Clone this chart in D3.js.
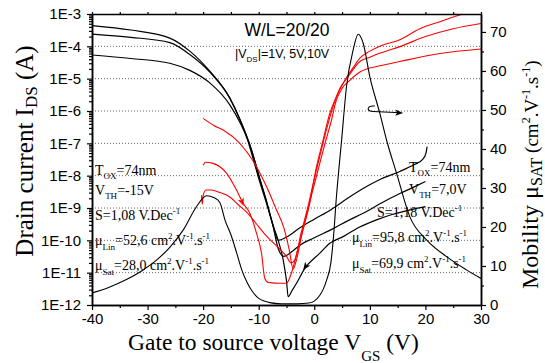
<!DOCTYPE html>
<html>
<head>
<meta charset="utf-8">
<script src="https://cdn.jsdelivr.net/npm/d3@7"></script>
<style>
  body { margin: 0; background: #fff; }
  svg { display: block; }
</style>
</head>
<body>
<div id="chart"></div>
<script>
// ---- data: [VGS (V), IDS (A)] / [VGS, mobility] ----
var vgsTicks = [-40, -30, -20, -10, 0, 10, 20, 30];
var vgsMinor = [-35, -25, -15, -5, 5, 15, 25];
var idsTicks = [1e-3, 1e-4, 1e-5, 1e-6, 1e-7, 1e-8, 1e-9, 1e-10, 1e-11, 1e-12];
var gridLines = [1e-4, 1e-5, 1e-6, 1e-7, 1e-8, 1e-9, 1e-10, 1e-11];
var mobTicks = [0, 10, 20, 30, 40, 50, 60, 70];
var mobMinor = [5, 15, 25, 35, 45, 55, 65];

// black transfer curves (|VDS| = 10V, 5V, 1V)
var blackVds10 = [[-40,4.4e-4],[-33,3.2e-4],[-26,1.8e-4],[-22.4,7.1e-5],[-18.8,1.7e-5],[-15.2,2.5e-6],
  [-13.4,5.6e-7],[-11.3,6.3e-8],[-9.8,7.9e-9],[-8.6,1.6e-9],[-7.5,3.2e-10],[-6.5,1.0e-10],[-5,1.26e-10],
  [-2.5,2.5e-10],[0,4.5e-10],[3,8.9e-10],[6,2.0e-9],[9.4,4.6e-9],[12,7.9e-9],[15.4,1.35e-8],[18,2.2e-8],
  [19.5,3.2e-8],[20.1,5.0e-8],[20.3,7.9e-8]];
var blackVds5 = [[-40,2.4e-4],[-33,1.9e-4],[-26,1.3e-4],[-22.4,5.6e-5],[-18.8,1.6e-5],[-15.2,2.5e-6],
  [-13.4,5.6e-7],[-11.3,6.3e-8],[-9.8,7.9e-9],[-8.6,1.6e-9],[-7.5,3.2e-10],[-6.5,5.6e-11],[-5.5,3.2e-11],
  [-4,4.5e-11],[-2.6,7.1e-11],[0,1.2e-10],[3.4,2.3e-10],[6,4.0e-10],[9.4,7.8e-10],[12,1.4e-9],
  [15.4,2.8e-9],[18,4.5e-9],[20,6.6e-9]];
var blackVds1 = [[-40,5.4e-5],[-33,4.2e-5],[-26,3.0e-5],[-22.4,1.8e-5],[-18.8,7.4e-6],[-15.2,1.55e-6],
  [-13.4,4.5e-7],[-12,1.26e-7],[-11.3,5.0e-8],[-9.8,6.3e-9],[-8.6,1.4e-9],[-7.5,3.2e-10],[-6.5,1.0e-10],
  [-5.6,2.5e-11],[-5,5.6e-12],[-4.7,1.8e-12],[-4,2.8e-12],[-3.2,4.7e-12],[-1.7,1.35e-11],[1,4.0e-11],
  [2.8,8.1e-11],[5.2,1.3e-10],[8,2.5e-10],[11.2,4.3e-10],[14,6.3e-10],[17.2,8.7e-10],[20,1.1e-9]];

// red transfer curves
var redVds10 = [[-20,5.9e-7],[-18,3.5e-7],[-16.4,2.6e-7],[-13.4,1.0e-7],[-10.4,1.9e-8],[-8.6,4.6e-9],
  [-6.8,8.7e-10],[-5.5,2.5e-10],[-4.5,5.0e-11],[-3.8,1.3e-11],[-3.2,2.5e-11],[-2.2,1.6e-10],[-1,1.0e-9],
  [0.4,1.9e-8],[1.5,1.1e-7],[2.8,8.5e-7],[4,2.8e-6],[5.5,8.9e-6],[7,2.2e-5],[8.2,4.3e-5],[10,7.1e-5],
  [12,1.05e-4],[15.4,1.6e-4],[19,3.5e-4],[22.6,5.8e-4],[26.8,1.0e-3],[30,1.35e-3]];
var redVds5 = [[-20.3,2.5e-9],[-20.15,1.3e-9],[-20,2.4e-9],[-19.5,3.6e-9],[-18.5,3.6e-9],[-17,3.0e-9],
  [-15.2,2.2e-9],[-13.7,1.26e-9],[-12,7.0e-10],[-10.4,3.2e-10],[-8.5,1.3e-10],[-6.5,6.0e-11],[-5,3.2e-11],
  [-4.2,2.0e-11],[-3.5,2.5e-11],[-2.4,1.6e-10],[-1.2,1.0e-9],[0,8.0e-9],[1.2,5.6e-8],[2.4,3.6e-7],
  [3.5,1.6e-6],[4.6,5.0e-6],[6,1.1e-5],[8.2,3.4e-5],[10,4.6e-5],[12,6.3e-5],[15.4,9.8e-5],[20,2.0e-4],
  [25,3.5e-4],[30,5.1e-4]];
var redVds1 = [[-20,2.1e-8],[-19.6,2.6e-8],[-18.2,2.4e-8],[-15.8,1.2e-8],[-14,3.6e-9],[-12.8,1.4e-9],
  [-11.6,6.9e-10],[-10.4,1.66e-10],[-9.5,4.0e-11],[-8.9,6.6e-12],[-8.3,5.0e-12],[-6,4.7e-12],[-5,4.7e-12],
  [-4.3,7.9e-12],[-3,5.0e-11],[-1.8,3.2e-10],[-0.5,2.5e-9],[0.8,1.8e-8],[2,1.1e-7],[3,4.5e-7],[3.9,2.0e-6],
  [5,5.0e-6],[6.4,8.9e-6],[8.2,1.6e-5],[11.8,2.5e-5],[15.4,3.4e-5],[22.6,6.0e-5],[30,8.3e-5]];

// saturation mobility (right axis)
var mobility = [[-40,3.1],[-37,4.5],[-34,6.4],[-31,8.8],[-28.4,11.5],[-26,14.8],[-23.6,19.2],[-21.2,25.2],
  [-19.4,28],[-18,27.5],[-17,26.3],[-16,21.5],[-15,18],[-14,13.5],[-13,8.8],[-12,5.5],[-11,3.2],[-10,1.7],
  [-9,1],[-8,0.6],[-6,0.3],[-3,0.3],[-1,0.5],[0,1],[1,2.5],[1.6,4],[2.2,6.3],[3,11],[3.4,16.5],[4,28],
  [4.9,42],[5.8,56],[7,65.4],[7.9,69.4],[8.8,67.1],[10,58.5],[11.8,49.1],[13,42.3],[14.8,33.8],
  [17.2,22.6],[20.2,16.7],[23.8,12.4],[27.4,9],[30,6.8]];

// ---- layout ----
var W = 545, H = 363;
var m = { l: 92, r: 481, t: 14, b: 305 };
var serif = "'Liberation Serif','Times New Roman',serif";
var sans = "'Liberation Sans',Arial,sans-serif";

var svg = d3.select("#chart").append("svg")
  .attr("width", W)
  .attr("height", H);

var x = d3.scaleLinear().domain([-40, 30]).range([m.l, m.r]);
var y = d3.scaleLog().domain([1e-12, 1e-3]).range([m.b, m.t]);
var yR = d3.scaleLinear().domain([0, 74.6]).range([m.b, m.t]);

svg.append("clipPath").attr("id", "plotclip")
  .append("rect")
  .attr("x", m.l).attr("y", m.t)
  .attr("width", m.r - m.l).attr("height", m.b - m.t);

// dotted grid
svg.append("g").selectAll("line")
  .data(gridLines)
  .enter().append("line")
  .attr("x1", m.l).attr("x2", m.r)
  .attr("y1", function (d) { return y(d); })
  .attr("y2", function (d) { return y(d); })
  .attr("stroke", "#666")
  .attr("stroke-width", 1)
  .attr("stroke-dasharray", "1,2");

// curves
var plot = svg.append("g").attr("clip-path", "url(#plotclip)");

var ivLine = d3.line()
  .x(function (d) { return x(d[0]); })
  .y(function (d) { return y(d[1]); })
  .curve(d3.curveMonotoneX);

var muLine = d3.line()
  .x(function (d) { return x(d[0]); })
  .y(function (d) { return yR(d[1]); })
  .curve(d3.curveMonotoneX);

[blackVds10, blackVds5, blackVds1].forEach(function (s) {
  plot.append("path").datum(s)
    .attr("d", ivLine).attr("fill", "none")
    .attr("stroke", "#000").attr("stroke-width", 1.2);
});
[redVds10, redVds5, redVds1].forEach(function (s) {
  plot.append("path").datum(s)
    .attr("d", ivLine).attr("fill", "none")
    .attr("stroke", "#ff0000").attr("stroke-width", 1.1);
});
plot.append("path").datum(mobility)
  .attr("d", muLine).attr("fill", "none")
  .attr("stroke", "#000").attr("stroke-width", 1.1);

// arrows
function arrowHead(px, py, ang, col) {
  svg.append("path")
    .attr("d", "M0,0 L-8,-3.2 L-6,0 L-8,3.2 Z")
    .attr("transform", "translate(" + px + "," + py + ") rotate(" + ang + ")")
    .attr("fill", col);
}
arrowHead(x(-2.0), y(1.2e-11), 125, "#000");
arrowHead(x(-12.7), y(1.15e-9), 68, "#ff0000");

svg.append("path")
  .attr("d", "M" + x(10.9) + "," + yR(51) +
    " C" + x(9.4) + "," + yR(51.2) + " " + x(9.3) + "," + yR(49.6) + " " + x(10.6) + "," + yR(49.6) +
    " L" + x(15.6) + "," + yR(49.3))
  .attr("fill", "none").attr("stroke", "#000").attr("stroke-width", 1.1);
arrowHead(x(16.0), yR(49.25), 2, "#000");

// axes
function styleAxis(g, fs) {
  g.attr("font-family", sans).attr("font-size", fs);
  g.select(".domain").attr("stroke-width", 1.5);
  g.selectAll(".tick line").attr("stroke-width", 1.2);
  g.selectAll(".tick text").attr("fill", "#000");
}
var fmtInt = function (d) { return String(d); };
var fmtExp = function (d) { return "1E" + Math.round(Math.log10(d)); };

var minorLog = [];
for (var e = -12; e < -3; e++) {
  for (var k = 2; k <= 9; k++) minorLog.push(k * Math.pow(10, e));
}

svg.append("g").attr("transform", "translate(0," + m.b + ")")
  .call(d3.axisBottom(x).tickValues(vgsMinor).tickSize(3).tickFormat("").tickSizeOuter(0))
  .call(styleAxis, 15);
svg.append("g").attr("transform", "translate(0," + m.b + ")")
  .call(d3.axisBottom(x).tickValues(vgsTicks).tickFormat(fmtInt).tickSize(5).tickPadding(3).tickSizeOuter(0))
  .call(styleAxis, 15);

svg.append("g").attr("transform", "translate(0," + m.t + ")")
  .call(d3.axisTop(x).tickValues(vgsTicks.concat(vgsMinor)).tickSize(2).tickFormat("").tickSizeOuter(0))
  .call(styleAxis, 15);

svg.append("g").attr("transform", "translate(" + m.l + ",0)")
  .call(d3.axisLeft(y).tickValues(minorLog).tickSize(3).tickFormat("").tickSizeOuter(0))
  .call(styleAxis, 15);
svg.append("g").attr("transform", "translate(" + m.l + ",0)")
  .call(d3.axisLeft(y).tickValues(idsTicks).tickFormat(fmtExp).tickSize(5).tickPadding(6).tickSizeOuter(0))
  .call(styleAxis, 15);

svg.append("g").attr("transform", "translate(" + m.r + ",0)")
  .call(d3.axisRight(yR).tickValues(mobMinor).tickSize(3).tickFormat("").tickSizeOuter(0))
  .call(styleAxis, 15);
svg.append("g").attr("transform", "translate(" + m.r + ",0)")
  .call(d3.axisRight(yR).tickValues(mobTicks).tickFormat(fmtInt).tickSize(5).tickPadding(4).tickSizeOuter(0))
  .call(styleAxis, 15);

// rich text: parts = [text, size, baseline offset]
function rich(g, px, py, parts, fam, anchor, transform) {
  var t = g.append("text")
    .attr("font-family", fam)
    .attr("text-anchor", anchor || "start")
    .attr("fill", "#000");
  if (transform) t.attr("transform", transform);
  else t.attr("x", px).attr("y", py);
  var cur = 0;
  parts.forEach(function (p) {
    var off = p[2] || 0;
    t.append("tspan")
      .attr("font-size", p[1])
      .attr("dy", off - cur)
      .text(p[0]);
    cur = off;
  });
  return t;
}

var txt = svg.append("g");
var S = 14, s = 9;

// left parameter block
rich(txt, 95, 175, [["T", S], ["OX", s, 4], ["=74nm", S]], serif);
rich(txt, 95, 195, [["V", S], ["TH", s, 4], ["=-15V", S]], serif);
rich(txt, 95, 220, [["S=1,08 V.Dec", S], ["-1", s, -6]], serif);
rich(txt, 95, 245, [["\u03bc", S], ["Lin", s, 5], ["=52,6 cm", S], ["2", s, -6], [".V", S], ["-1", s, -6],
  [".s", S], ["-1", s, -6]], serif);
rich(txt, 95, 270, [["\u03bc", S], ["Sat", s, 5], ["=28,0 cm", S], ["2", s, -6], [".V", S], ["-1", s, -6],
  [".s", S], ["-1", s, -6]], serif);

// right parameter block
rich(txt, 409, 172, [["T", S], ["OX", s, 4], ["=74nm", S]], serif);
rich(txt, 409, 194, [["V", S], ["TH", s, 4], ["=7,0V", S]], serif);
rich(txt, 377, 217, [["S=1,18 V.Dec", S], ["-1", s, -6]], serif);
rich(txt, 352, 242, [["\u03bc", S], ["Lin", s, 5], ["=95,8 cm", S], ["2", s, -6], [".V", S], ["-1", s, -6],
  [".s", S], ["-1", s, -6]], serif);
rich(txt, 352, 268, [["\u03bc", S], ["Sat", s, 5], ["=69,9 cm", S], ["2", s, -6], [".V", S], ["-1", s, -6],
  [".s", S], ["-1", s, -6]], serif);

// header
rich(txt, 287, 36, [["W/L=20/20", 17.5]], sans, "middle");
rich(txt, 235, 58, [["|", 12.5], ["V", 12.5], ["DS", 8, 4], ["|=1V, 5V,10V", 12.5]], sans);

// axis titles
rich(txt, 128, 349.5, [["Gate to source voltage V", 23.5], ["GS", 15, 11], [" (V)", 23.5]], serif);
rich(txt, 0, 0, [["Drain current I", 25], ["DS", 17, 4], [" (A)", 25]], serif, "middle",
  "translate(33,151) rotate(-90)");
rich(txt, 0, 0, [["Mobility \u03bc", 24], ["SAT", 16, 4], [" (cm", 19], ["2", 12, -8], [".V", 19],
  ["-1", 12, -8], [".s", 19], ["-1", 12, -8], [")", 19]], serif, "start",
  "translate(538,289) rotate(-90)");
</script>
</body>
</html>
